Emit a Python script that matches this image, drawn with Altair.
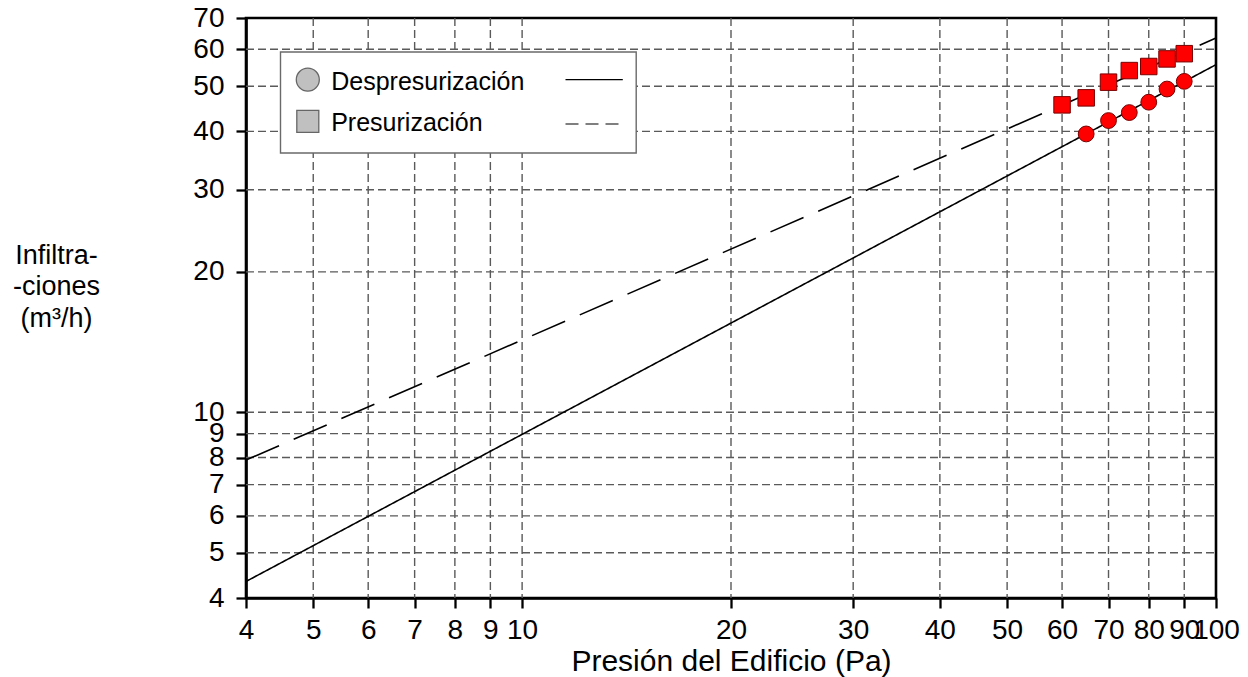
import altair as alt
import pandas as pd

# ---------------- data ----------------
series = ["Despresurización", "Presurización"]
desp_x = [65, 70, 75, 80, 85, 90]
desp_y = [39.5, 42.2, 43.9, 46.2, 49.3, 51.2]
pres_x = [60, 65, 70, 75, 80, 85, 90]
pres_y = [45.6, 47.2, 51.0, 54.0, 55.1, 57.2, 58.7]
fit_x = [4, 100]
desp_fit_y = [4.34, 55.6]
pres_fit_y = [7.9, 63.4]
x_ticks = [4, 5, 6, 7, 8, 9, 10, 20, 30, 40, 50, 60, 70, 80, 90, 100]
y_ticks = [4, 5, 6, 7, 8, 9, 10, 20, 30, 40, 50, 60, 70]
x_grid = x_ticks[1:-1]
y_grid = y_ticks[1:-1]
x_title = "Presión del Edificio (Pa)"
y_title = ["Infiltra-", "-ciones", "(m³/h)"]

FONT = "Liberation Sans"
W, H = 970, 580

points = pd.DataFrame({
    "x": desp_x + pres_x,
    "y": desp_y + pres_y,
    "serie": [series[0]] * len(desp_x) + [series[1]] * len(pres_x),
})
fits = pd.DataFrame({
    "x": fit_x + fit_x,
    "y": desp_fit_y + pres_fit_y,
    "serie": [series[0]] * 2 + [series[1]] * 2,
})
gx = pd.DataFrame({"x": x_grid})
gy = pd.DataFrame({"y": y_grid})
legend_df = pd.DataFrame({"serie": series})

xs = alt.Scale(type="log", domain=[4, 100], nice=False)
ys = alt.Scale(type="log", domain=[4, 70], nice=False)

x_axis = alt.Axis(
    values=x_ticks, format="d", grid=False,
    domainColor="black", domainWidth=2.6,
    tickColor="black", tickWidth=2.3, tickSize=10,
    labelFont=FONT, labelFontSize=28, labelColor="black",
    labelPadding=8, labelOverlap=False, labelFlush=False,
    title=x_title, titleFont=FONT, titleFontSize=30, titleFontWeight="normal",
    titleColor="black", titleBaseline="alphabetic", titleY=72,
)
y_axis = alt.Axis(
    values=y_ticks, format="d", grid=False,
    domainColor="black", domainWidth=2.6,
    tickColor="black", tickWidth=2.3, tickSize=10,
    labelFont=FONT, labelFontSize=28, labelColor="black",
    labelPadding=12, labelOverlap=False, labelFlush=False,
    title=y_title, titleFont=FONT, titleFontSize=27, titleFontWeight="normal",
    titleColor="black", titleAngle=0, titleAlign="center",
    titleBaseline="alphabetic", titleX=-190, titleY=245, titleLineHeight=31.7,
)

grid_style = dict(color="#5a5a5a", strokeWidth=1.4, strokeDash=[8, 4])
vgrid = alt.Chart(gx).mark_rule(**grid_style).encode(
    x=alt.X("x:Q", scale=xs, axis=x_axis),
    y=alt.value(0), y2=alt.value(H),
)
hgrid = alt.Chart(gy).mark_rule(**grid_style).encode(
    y=alt.Y("y:Q", scale=ys, axis=y_axis),
    x=alt.value(0), x2=alt.value(W),
)

lines = alt.Chart(fits).mark_line(color="black", strokeWidth=1.6).encode(
    x=alt.X("x:Q", scale=xs, axis=x_axis),
    y=alt.Y("y:Q", scale=ys, axis=y_axis),
    strokeDash=alt.StrokeDash("serie:N", scale=alt.Scale(domain=series, range=[[1, 0], [36, 16]]), legend=None),
)

pts = alt.Chart(points).mark_point(filled=True, fill="#ff0000", stroke="#7a0000", strokeWidth=1, opacity=1).encode(
    x=alt.X("x:Q", scale=xs, axis=x_axis),
    y=alt.Y("y:Q", scale=ys, axis=y_axis),
    shape=alt.Shape("serie:N", scale=alt.Scale(domain=series, range=["circle", "square"]), legend=None),
    size=alt.Size("serie:N", scale=alt.Scale(domain=series, range=[250, 272]), legend=None),
)

# ---------------- legend box (decoration) ----------------
leg_box = alt.Chart(legend_df).transform_filter(alt.datum.serie == series[0]).mark_rect(
    fill="white", stroke="#6a6a6a", strokeWidth=1.4
).encode(x=alt.value(34.5), x2=alt.value(390.2), y=alt.value(34), y2=alt.value(135))

leg_sym1 = alt.Chart(legend_df).transform_filter(alt.datum.serie == series[0]).mark_point(
    shape="circle", filled=True, fill="#c0c0c0", stroke="#666666", strokeWidth=1.3, size=529, opacity=1
).encode(x=alt.value(61.8), y=alt.value(61.7))
leg_sym2 = alt.Chart(legend_df).transform_filter(alt.datum.serie == series[1]).mark_point(
    shape="square", filled=True, fill="#c0c0c0", stroke="#666666", strokeWidth=1.3, size=484, opacity=1
).encode(x=alt.value(61.8), y=alt.value(103.4))

leg_txt1 = alt.Chart(legend_df).transform_filter(alt.datum.serie == series[0]).mark_text(
    font=FONT, fontSize=25, align="left", baseline="middle", color="black"
).encode(x=alt.value(85.2), y=alt.value(63.5), text="serie:N")
leg_txt2 = alt.Chart(legend_df).transform_filter(alt.datum.serie == series[1]).mark_text(
    font=FONT, fontSize=25, align="left", baseline="middle", color="black"
).encode(x=alt.value(85.2), y=alt.value(105.2), text="serie:N")

leg_line1 = alt.Chart(legend_df).transform_filter(alt.datum.serie == series[0]).mark_rule(
    color="black", strokeWidth=1.2
).encode(x=alt.value(319.5), x2=alt.value(376.8), y=alt.value(61.7))
leg_line2 = alt.Chart(legend_df).transform_filter(alt.datum.serie == series[1]).mark_rule(
    color="black", strokeWidth=1.2, strokeDash=[13, 7]
).encode(x=alt.value(319.5), x2=alt.value(376.8), y=alt.value(106))

chart = alt.layer(
    vgrid, hgrid, leg_box, lines, pts,
    leg_sym1, leg_sym2, leg_txt1, leg_txt2, leg_line1, leg_line2,
).properties(
    width=W, height=H,
    autosize=alt.AutoSizeParams(type="none"),
    padding={"left": 246, "top": 18, "right": 32, "bottom": 79},
    background="white",
).configure_view(stroke="black", strokeWidth=2.6)

chart.save("out.html", embed_options={"renderer": "svg", "actions": False})
